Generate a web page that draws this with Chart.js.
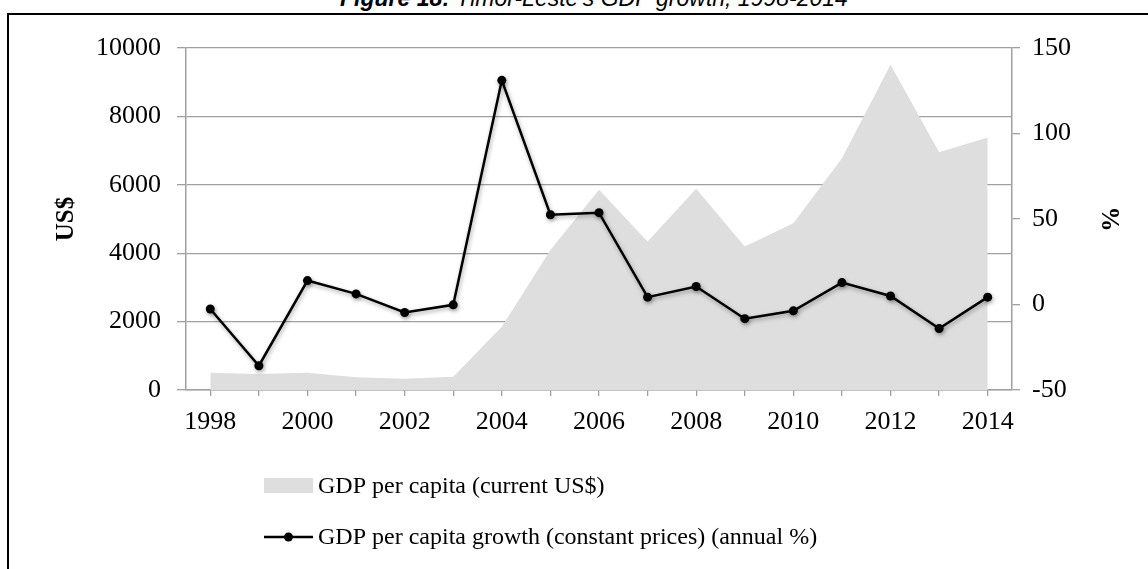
<!DOCTYPE html>
<html>
<head>
<meta charset="utf-8">
<script src="https://cdn.jsdelivr.net/npm/chart.js@4/dist/chart.umd.min.js"></script>
<style>
  html, body { margin: 0; padding: 0; background: #fff; overflow: hidden; }
  #wrap { position: relative; width: 1148px; height: 569px; overflow: hidden; }
  #frame { position: absolute; left: 7px; top: 13px; width: 1200px; height: 600px;
           border-left: 2px solid #000; border-top: 2px solid #000; }
  #title { position: absolute; left: 340px; top: -13px; white-space: nowrap;
           font: italic 23px/23px "Liberation Sans", Arial, sans-serif; color: #000; }
  #title b { font-weight: bold; }
  canvas { position: absolute; left: 0; top: 0; }
</style>
</head>
<body>
<div id="wrap">
  <div id="frame"></div>
  <div id="title"><b>Figure 18:</b> Timor-Leste's GDP growth, 1998-2014</div>
  <canvas id="chart" width="1148" height="569"></canvas>
</div>
<script>
// Timor-Leste, 1998-2014
const years = ['1998','1999','2000','2001','2002','2003','2004','2005','2006',
               '2007','2008','2009','2010','2011','2012','2013','2014'];
// GDP per capita, current US$ (left axis)
const gdpPerCapita = [506, 468, 506, 372, 331, 389, 1852, 4096, 5852,
                      4339, 5881, 4194, 4877, 6779, 9510, 6955, 7382];
// GDP per capita growth, constant prices, annual % (right axis)
const gdpGrowth = [-2.6, -35.8, 14.0, 6.2, -4.7, -0.2, 131.1, 52.5, 53.7,
                   4.3, 10.5, -8.3, -3.7, 12.8, 5.0, -14.1, 4.3];
const leftTicks = { min: 0, max: 10000, step: 2000 };
const rightTicks = { min: -50, max: 150, step: 50 };
const seriesNames = ['GDP per capita (current US$)',
                     'GDP per capita growth (constant prices) (annual %)'];

const SERIF = '"Liberation Serif", "Times New Roman", serif';
const GRID = '#a0a0a0';

// soft drop shadow under each dataset
const shadowPlugin = {
  id: 'shadow',
  beforeDatasetDraw(chart, args) {
    const ctx = chart.ctx;
    ctx.save();
    if (args.index === 0) {
      ctx.shadowColor = 'rgba(0,0,0,0.22)';
      ctx.shadowBlur = 5; ctx.shadowOffsetX = 2; ctx.shadowOffsetY = 1;
    } else {
      ctx.shadowColor = 'rgba(0,0,0,0.35)';
      ctx.shadowBlur = 4; ctx.shadowOffsetX = 1; ctx.shadowOffsetY = 2;
    }
  },
  afterDatasetDraw(chart) { chart.ctx.restore(); }
};

// legend stacked in rows below the x axis
const stackedLegend = {
  id: 'stackedLegend',
  afterDraw(chart, args, opts) {
    const ctx = chart.ctx;
    ctx.save();
    chart.data.datasets.forEach((ds, i) => {
      const y = opts.top + i * opts.rowGap;
      const x0 = opts.left, x1 = opts.left + opts.boxWidth;
      if (ds.fill) {
        ctx.fillStyle = ds.backgroundColor;
        ctx.fillRect(x0, y - 8, opts.boxWidth, 15);
      } else {
        ctx.strokeStyle = ds.borderColor;
        ctx.lineWidth = ds.borderWidth;
        ctx.beginPath(); ctx.moveTo(x0, y); ctx.lineTo(x1, y); ctx.stroke();
        ctx.fillStyle = ds.pointBackgroundColor;
        ctx.beginPath(); ctx.arc((x0 + x1) / 2, y, ds.pointRadius, 0, Math.PI * 2); ctx.fill();
      }
      ctx.fillStyle = '#000';
      ctx.font = opts.font;
      ctx.textBaseline = 'middle';
      ctx.textAlign = 'left';
      ctx.fillText(ds.label, x1 + opts.gap, y + 1);
    });
    ctx.restore();
  }
};

const plain = (v) => String(v);

new Chart(document.getElementById('chart'), {
  type: 'line',
  data: {
    labels: years,
    datasets: [
      {
        label: seriesNames[0],
        data: gdpPerCapita,
        yAxisID: 'y',
        fill: 'origin',
        backgroundColor: '#dedede',
        borderWidth: 0,
        borderColor: 'rgba(0,0,0,0)',
        pointRadius: 0,
        tension: 0,
        order: 2
      },
      {
        label: seriesNames[1],
        data: gdpGrowth,
        yAxisID: 'y1',
        fill: false,
        borderColor: '#000',
        borderWidth: 2.5,
        pointRadius: 4.5,
        pointBackgroundColor: '#000',
        pointBorderColor: '#000',
        pointBorderWidth: 0,
        tension: 0,
        order: 1
      }
    ]
  },
  options: {
    responsive: false,
    animation: false,
    events: [],
    layout: { padding: { top: 48, bottom: 129, left: 0, right: 0 } },
    plugins: {
      legend: { display: false },
      tooltip: { enabled: false },
      stackedLegend: { left: 264, top: 486, rowGap: 51, boxWidth: 49, gap: 5,
                       font: '24px ' + SERIF }
    },
    scales: {
      x: {
        type: 'category',
        offset: true,
        grid: { display: true, drawOnChartArea: false, offset: false,
                color: GRID, tickLength: 6, lineWidth: 1.3 },
        border: { display: true, color: GRID, width: 1.5 },
        ticks: {
          autoSkip: false, maxRotation: 0, padding: 11, color: '#000',
          font: { family: SERIF, size: 26 },
          callback: (v, i) => (i % 2 === 0 ? years[i] : '')
        },
        afterFit: (s) => { s.height = 50; }
      },
      y: {
        position: 'left',
        min: leftTicks.min, max: leftTicks.max,
        ticks: { stepSize: leftTicks.step, padding: 16, color: '#000',
                 font: { family: SERIF, size: 26 }, callback: plain },
        grid: { color: GRID, lineWidth: 1.3, tickLength: 9 },
        border: { display: true, color: GRID, width: 1.5 },
        title: { display: true, text: 'US$', color: '#000',
                 font: { family: SERIF, size: 25, weight: 'bold' },
                 padding: { top: 52, bottom: 0 } },
        afterFit: (s) => { s.width = 186; }
      },
      y1: {
        position: 'right',
        min: rightTicks.min, max: rightTicks.max,
        ticks: { stepSize: rightTicks.step, padding: 12, color: '#000',
                 font: { family: SERIF, size: 26 }, callback: plain },
        grid: { drawOnChartArea: false, color: GRID, lineWidth: 1.3, tickLength: 8 },
        border: { display: true, color: GRID, width: 1.5 },
        title: { display: true, text: '%', color: '#000',
                 font: { family: SERIF, size: 25, weight: 'bold' },
                 padding: { top: 25, bottom: 0 } },
        afterFit: (s) => { s.width = 136; }
      }
    }
  },
  plugins: [shadowPlugin, stackedLegend]
});
</script>
</body>
</html>
